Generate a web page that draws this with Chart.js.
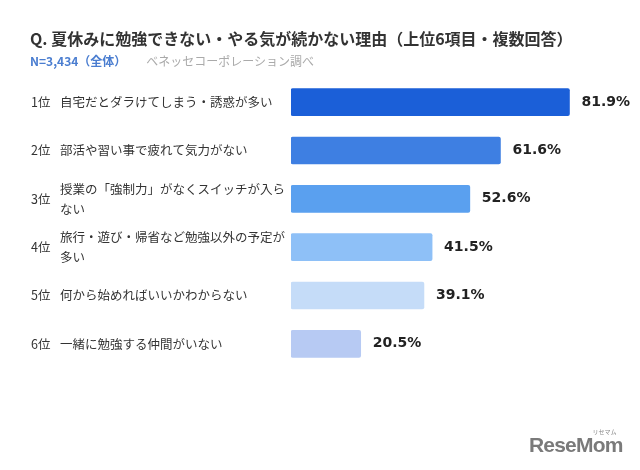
<!DOCTYPE html>
<html>
<head>
<meta charset="utf-8">
<script src="https://cdn.jsdelivr.net/npm/chart.js@4.4.0/dist/chart.umd.min.js"></script>
<style>
  body { margin: 0; background: #fff; }
  .wrap { position: relative; width: 640px; height: 470px; }
  #chart { position: absolute; left: 0; top: 0; }
  .title { position: absolute; left: 30px; top: 26px; font: bold 16px "Noto Sans CJK JP", sans-serif; color: #333; white-space: nowrap; }
  .sub { position: absolute; left: 30px; top: 52px; font: 12px "Noto Sans CJK JP", sans-serif; white-space: nowrap; }
  .sub .n { color: #4a7dd0; font-weight: bold; }
  .sub .src { color: #aaa; margin-left: 20px; }
  .logo { position: absolute; left: 529px; top: 433px; font: bold 21px "Liberation Sans", sans-serif; color: #7a7a7a; letter-spacing: -0.8px; }
  .logo small { position: absolute; right: 6px; top: -6px; font: 6px "Noto Sans CJK JP"; color: #888; letter-spacing: 0; }
</style>
</head>
<body>
<div class="wrap">
  <canvas id="chart" width="640" height="470"></canvas>
  <div class="title">Q. 夏休みに勉強できない・やる気が続かない理由（上位6項目・複数回答）</div>
  <div class="sub"><span class="n">N=3,434（全体）</span><span class="src">ベネッセコーポレーション調べ</span></div>
  <div class="logo">ReseMom<small>リセマム</small></div>
</div>
<script>
const ranks = ['1位', '2位', '3位', '4位', '5位', '6位'];
const reasons = [
  ['自宅だとダラけてしまう・誘惑が多い'],
  ['部活や習い事で疲れて気力がない'],
  ['授業の「強制力」がなくスイッチが入ら', 'ない'],
  ['旅行・遊び・帰省など勉強以外の予定が', '多い'],
  ['何から始めればいいかわからない'],
  ['一緒に勉強する仲間がいない']
];
const values = [81.9, 61.6, 52.6, 41.5, 39.1, 20.5];
const barColors = ['#1b5fd8', '#3e7fe2', '#5aa0ef', '#8ec0f7', '#c5dcf8', '#b7caf3'];

// 左側の順位と理由、バーの右の数値
const labelPlugin = {
  id: 'labels',
  afterDatasetsDraw(chart) {
    const ctx = chart.ctx;
    const yScale = chart.scales.y;
    const meta = chart.getDatasetMeta(0);
    ctx.save();
    ctx.textBaseline = 'middle';
    ranks.forEach(function(r, i) {
      const y = yScale.getPixelForValue(i);
      ctx.fillStyle = '#333';
      ctx.font = '12.5px "Noto Sans CJK JP", sans-serif';
      ctx.textAlign = 'left';
      ctx.fillText(r, 31, y);
      const lines = reasons[i];
      const start = y - (lines.length - 1) * 10;
      lines.forEach(function(line, j) {
        ctx.fillText(line, 60, start + j * 20);
      });
      const bar = meta.data[i];
      ctx.fillStyle = '#222';
      ctx.font = 'bold 14px "DejaVu Sans", sans-serif';
      ctx.fillText(values[i].toFixed(1) + '%', bar.x + 12, bar.y);
    });
    ctx.restore();
  }
};

new Chart(document.getElementById('chart'), {
  type: 'bar',
  data: {
    labels: ranks,
    datasets: [{
      data: values,
      backgroundColor: barColors,
      borderRadius: 2,
      borderSkipped: false,
      barThickness: 27
    }]
  },
  options: {
    indexAxis: 'y',
    responsive: false,
    animation: false,
    layout: { padding: { left: 291, top: 78, right: 9, bottom: 102 } },
    scales: {
      x: { display: false, min: 0, max: 100 },
      y: { display: false }
    },
    plugins: {
      legend: { display: false },
      tooltip: { enabled: false }
    }
  },
  plugins: [labelPlugin]
});
</script>
</body>
</html>
